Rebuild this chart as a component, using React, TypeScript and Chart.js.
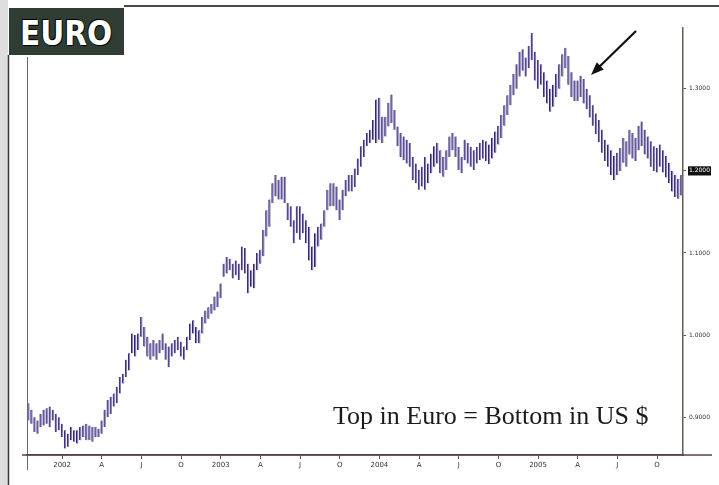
import React, { useEffect, useRef } from 'react';
import { Chart, registerables } from 'chart.js';

Chart.register(...registerables);

// Weekly EUR/USD bars, first week starting Monday 15 Oct 2001
const FIRST_WEEK_UTC = Date.UTC(2001, 9, 15);

const highs = [
  0.917, 0.909, 0.900, 0.896, 0.904, 0.909, 0.911, 0.913, 0.909, 0.904,
  0.900, 0.892, 0.884, 0.880, 0.888, 0.884, 0.884, 0.888, 0.890, 0.892,
  0.890, 0.888, 0.888, 0.886, 0.896, 0.909, 0.921, 0.925, 0.929, 0.937,
  0.949, 0.953, 0.970, 0.978, 1.002, 1.000, 1.002, 1.022, 1.010, 0.998,
  0.990, 0.994, 0.990, 0.994, 1.002, 0.990, 0.986, 0.990, 0.994, 0.998,
  0.992, 0.986, 0.998, 1.014, 1.018, 1.010, 1.006, 1.022, 1.030, 1.034,
  1.038, 1.047, 1.053, 1.063, 1.087, 1.095, 1.093, 1.087, 1.091, 1.087,
  1.108, 1.106, 1.087, 1.079, 1.087, 1.100, 1.104, 1.128, 1.152, 1.165,
  1.185, 1.195, 1.189, 1.193, 1.193, 1.161, 1.157, 1.140, 1.157, 1.157,
  1.148, 1.140, 1.132, 1.108, 1.124, 1.132, 1.136, 1.152, 1.177, 1.185,
  1.185, 1.181, 1.165, 1.177, 1.189, 1.195, 1.195, 1.203, 1.215, 1.230,
  1.238, 1.246, 1.250, 1.262, 1.287, 1.289, 1.266, 1.266, 1.283, 1.293,
  1.274, 1.254, 1.246, 1.242, 1.238, 1.234, 1.217, 1.209, 1.201, 1.205,
  1.217, 1.209, 1.221, 1.230, 1.234, 1.225, 1.217, 1.225, 1.242, 1.246,
  1.242, 1.229, 1.217, 1.238, 1.234, 1.229, 1.225, 1.229, 1.234, 1.238,
  1.236, 1.232, 1.240, 1.248, 1.255, 1.268, 1.280, 1.292, 1.305, 1.318,
  1.330, 1.345, 1.348, 1.338, 1.352, 1.368, 1.345, 1.335, 1.330, 1.320,
  1.310, 1.300, 1.305, 1.318, 1.330, 1.342, 1.350, 1.340, 1.320, 1.310,
  1.310, 1.316, 1.312, 1.300, 1.292, 1.280, 1.270, 1.262, 1.250, 1.238,
  1.232, 1.225, 1.218, 1.222, 1.228, 1.240, 1.236, 1.250, 1.246, 1.240,
  1.255, 1.260, 1.250, 1.242, 1.236, 1.230, 1.228, 1.232, 1.225, 1.218,
  1.210, 1.200, 1.195, 1.190, 1.195,
];

const lows = [
  0.896, 0.892, 0.882, 0.880, 0.888, 0.890, 0.892, 0.888, 0.896, 0.882,
  0.884, 0.876, 0.862, 0.864, 0.872, 0.870, 0.868, 0.872, 0.876, 0.872,
  0.872, 0.870, 0.876, 0.876, 0.880, 0.888, 0.900, 0.904, 0.913, 0.917,
  0.929, 0.941, 0.949, 0.957, 0.978, 0.974, 0.982, 0.998, 0.986, 0.974,
  0.970, 0.974, 0.970, 0.978, 0.982, 0.970, 0.961, 0.974, 0.978, 0.982,
  0.974, 0.970, 0.982, 0.994, 1.002, 0.990, 0.990, 1.002, 1.014, 1.020,
  1.026, 1.030, 1.034, 1.045, 1.071, 1.075, 1.079, 1.069, 1.073, 1.067,
  1.079, 1.075, 1.051, 1.059, 1.057, 1.079, 1.087, 1.096, 1.120, 1.132,
  1.161, 1.169, 1.165, 1.165, 1.161, 1.140, 1.132, 1.112, 1.124, 1.116,
  1.124, 1.112, 1.091, 1.079, 1.083, 1.108, 1.116, 1.132, 1.152, 1.157,
  1.157, 1.152, 1.140, 1.152, 1.169, 1.175, 1.175, 1.180, 1.195, 1.205,
  1.217, 1.230, 1.234, 1.238, 1.234, 1.238, 1.234, 1.242, 1.254, 1.258,
  1.250, 1.230, 1.217, 1.213, 1.209, 1.205, 1.189, 1.185, 1.177, 1.181,
  1.177, 1.185, 1.197, 1.205, 1.209, 1.197, 1.193, 1.201, 1.217, 1.225,
  1.217, 1.201, 1.197, 1.213, 1.209, 1.205, 1.201, 1.209, 1.213, 1.215,
  1.212, 1.208, 1.215, 1.222, 1.232, 1.240, 1.255, 1.268, 1.280, 1.292,
  1.300, 1.315, 1.322, 1.315, 1.325, 1.335, 1.310, 1.300, 1.305, 1.290,
  1.282, 1.272, 1.278, 1.290, 1.300, 1.315, 1.325, 1.305, 1.290, 1.285,
  1.285, 1.290, 1.282, 1.275, 1.265, 1.255, 1.245, 1.235, 1.222, 1.212,
  1.205, 1.195, 1.189, 1.195, 1.200, 1.210, 1.205, 1.220, 1.215, 1.212,
  1.225, 1.230, 1.220, 1.215, 1.205, 1.200, 1.198, 1.205, 1.198, 1.192,
  1.185, 1.175, 1.168, 1.166, 1.170,
];

// Quarter tick labels (January shows the year)
const quarterLabels: Record<number, string> = { 3: 'A', 6: 'J', 9: 'O' };
const yTickValues = [0.9, 1.0, 1.1, 1.2, 1.3];
const highlightedTick = 1.2;
const titleText = 'EURO';
const noteText = 'Top in Euro = Bottom in US $';

const DAY = 86400000;
const weekLabels = highs.map((_, i) => new Date(FIRST_WEEK_UTC + i * 7 * DAY).toISOString().slice(0, 10));

function quarterLabelFor(index: number): string | null {
  const start = FIRST_WEEK_UTC + index * 7 * DAY;
  for (let d = 0; d < 7; d++) {
    const dt = new Date(start + d * DAY);
    const m = dt.getUTCMonth();
    if (dt.getUTCDate() === 1 && m % 3 === 0) {
      return m === 0 ? String(dt.getUTCFullYear()) : quarterLabels[m];
    }
  }
  return null;
}

const decorPlugin = {
  id: 'decor',
  beforeDraw(chart: any) {
    const ctx = chart.ctx;
    ctx.save();
    ctx.fillStyle = '#ffffff';
    ctx.fillRect(0, 0, chart.width, chart.height);
    ctx.fillStyle = '#dedede';
    ctx.fillRect(0, 0, 8, chart.height);
    ctx.restore();
  },
  afterDraw(chart: any) {
    const ctx = chart.ctx;
    const a = chart.chartArea;
    ctx.save();
    // outer frame
    ctx.strokeStyle = '#3a3a3a';
    ctx.lineWidth = 1.5;
    ctx.beginPath();
    ctx.moveTo(8.5, 55);
    ctx.lineTo(8.5, chart.height);
    ctx.stroke();
    ctx.strokeStyle = '#4a4a4a';
    ctx.lineWidth = 2;
    ctx.beginPath();
    ctx.moveTo(124, 6);
    ctx.lineTo(chart.width, 6);
    ctx.stroke();
    // left chart line
    ctx.strokeStyle = '#6a6a6a';
    ctx.lineWidth = 1;
    ctx.beginPath();
    ctx.moveTo(a.left + 0.5, 57);
    ctx.lineTo(a.left + 0.5, a.bottom + 15);
    ctx.stroke();
    // bottom axis extension
    ctx.strokeStyle = '#5a4048';
    ctx.lineWidth = 1.5;
    ctx.beginPath();
    ctx.moveTo(a.left - 5, a.bottom);
    ctx.lineTo(712, a.bottom);
    ctx.stroke();
    // arrow
    ctx.strokeStyle = '#111';
    ctx.fillStyle = '#111';
    ctx.lineWidth = 2.2;
    const x1 = 636, y1 = 31, x2 = 591, y2 = 75;
    ctx.beginPath();
    ctx.moveTo(x1, y1);
    ctx.lineTo(x2 + 6, y2 - 6);
    ctx.stroke();
    const ang = Math.atan2(y2 - y1, x2 - x1);
    const L = 13, W = 5;
    ctx.beginPath();
    ctx.moveTo(x2, y2);
    ctx.lineTo(x2 - L * Math.cos(ang) + W * Math.sin(ang), y2 - L * Math.sin(ang) - W * Math.cos(ang));
    ctx.lineTo(x2 - L * Math.cos(ang) - W * Math.sin(ang), y2 - L * Math.sin(ang) + W * Math.cos(ang));
    ctx.closePath();
    ctx.fill();
    ctx.restore();
  },
};

export default function App() {
  const canvasRef = useRef<HTMLCanvasElement | null>(null);

  useEffect(() => {
    const canvas = canvasRef.current;
    if (!canvas) return;
    const chart = new Chart(canvas, {
      type: 'bar',
      data: {
        labels: weekLabels,
        datasets: [
          {
            data: highs.map((h, i) => [lows[i], h]) as any,
            backgroundColor: '#8a7ac4',
            borderColor: '#2e2658',
            borderWidth: { left: 1, right: 0, top: 0, bottom: 0 } as any,
            borderSkipped: false,
            barThickness: 2,
          },
        ],
      },
      options: {
        responsive: false,
        animation: false,
        layout: { padding: { left: 27, top: 28, right: 0, bottom: 0 } },
        plugins: { legend: { display: false }, tooltip: { enabled: false } },
        scales: {
          x: {
            type: 'category',
            offset: true,
            grid: {
              display: true,
              drawOnChartArea: false,
              drawTicks: true,
              tickLength: 4,
              color: '#555',
              offset: false,
            },
            border: { display: true, color: '#5a4048', width: 1.5 },
            ticks: {
              autoSkip: false,
              maxRotation: 0,
              minRotation: 0,
              padding: 2,
              color: '#333',
              font: { size: 7, family: 'DejaVu Sans' },
              callback: (_v: any, index: number) => quarterLabelFor(index),
            },
            afterFit: (s: any) => {
              s.height = 30;
            },
          },
          y: {
            type: 'linear',
            position: 'right',
            min: 0.854,
            max: 1.374,
            afterBuildTicks: (s: any) => {
              s.ticks = yTickValues.map((v) => ({ value: v }));
            },
            grid: { drawOnChartArea: false, tickLength: 3, color: '#555' },
            border: { display: true, color: '#6a5a50', width: 1.5 },
            ticks: {
              padding: 3,
              font: { size: 6, family: 'DejaVu Sans' },
              color: (c: any) => (c.tick && Math.abs(c.tick.value - highlightedTick) < 1e-9 ? '#ffffff' : '#333'),
              showLabelBackdrop: true,
              backdropPadding: 1,
              backdropColor: (c: any) =>
                c.tick && Math.abs(c.tick.value - highlightedTick) < 1e-9 ? '#111' : 'rgba(0,0,0,0)',
              callback: (v: any) => Number(v).toFixed(4),
            },
            afterFit: (s: any) => {
              s.width = 36;
            },
          },
        },
      },
      plugins: [decorPlugin],
    });
    return () => chart.destroy();
  }, []);

  return (
    <div style={{ position: 'fixed', left: 0, top: 0, width: 719, height: 485, background: '#fff', overflow: 'hidden' }}>
      <canvas ref={canvasRef} width={719} height={485} style={{ display: 'block', width: 719, height: 485 }} />
      <div
        style={{
          position: 'absolute',
          left: 9,
          top: 8,
          width: 115,
          height: 47,
          background: '#2f3d35',
          overflow: 'hidden',
        }}
      >
        <span
          style={{
            position: 'absolute',
            left: 11,
            top: 8,
            font: 'bold 34px "DejaVu Sans"',
            lineHeight: '34px',
            color: '#ffffff',
            whiteSpace: 'nowrap',
            transform: 'scaleX(0.87)',
            transformOrigin: '0 0',
            textShadow: '0 0 2px #000, 1px 1px 0 #000, -1px -1px 0 #000',
          }}
        >
          {titleText}
        </span>
      </div>
      <div
        style={{
          position: 'absolute',
          left: 333,
          top: 403,
          font: '26px "Liberation Serif"',
          lineHeight: '26px',
          color: '#1a1a1a',
          whiteSpace: 'nowrap',
        }}
      >
        {noteText}
      </div>
    </div>
  );
}
